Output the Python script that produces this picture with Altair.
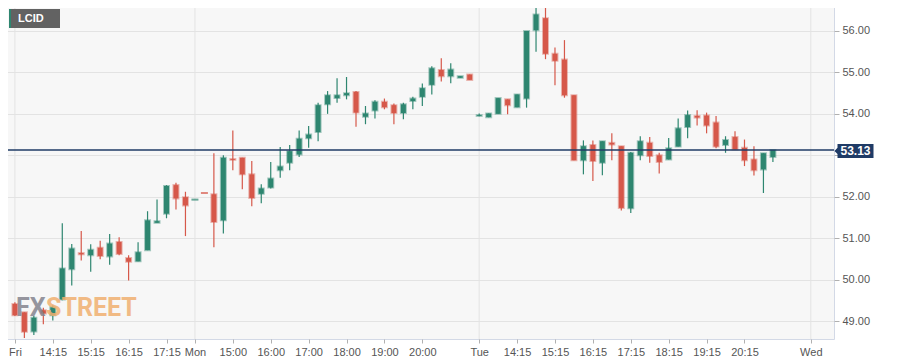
import altair as alt
import pandas as pd

# ---------------- data (15-minute candles) ----------------
candle_idx = list(range(0, 19)) + list(range(21, 81))
opens = [49.41, 49.21, 48.75, 49.26, 49.14, 49.52, 50.25, 50.64, 50.59, 50.77,
         50.56, 50.91, 50.52, 50.44, 50.71, 51.37, 51.59, 52.28, 51.99,
         52.06, 51.43, 52.91, 52.94, 52.54, 52.07, 52.22, 52.64, 52.82, 53.02,
         53.41, 53.56, 54.23, 54.38, 54.45, 54.53, 53.93, 54.08, 54.29, 54.21,
         54.02, 54.31, 54.41, 54.70, 55.06, 54.91, 54.87, 54.95,
         53.95, 53.92, 54.00, 54.35, 54.16, 54.37, 56.02, 56.31, 55.45, 55.31,
         54.45, 52.88, 53.25, 52.82, 53.30, 53.22, 51.72, 53.00, 53.30, 53.00,
         52.90, 53.21, 53.68, 53.95, 53.96, 53.79, 53.25, 53.44, 53.18, 52.90,
         52.66, 52.96]
highs = [49.45, 49.21, 49.12, 49.32, 49.38, 51.36, 50.86, 51.17, 50.85, 50.94,
         51.10, 51.02, 50.59, 50.90, 51.65, 51.93, 52.28, 52.34, 52.12,
         53.05, 53.00, 53.60, 52.94, 52.86, 52.30, 52.84, 53.20, 53.25, 53.60,
         53.71, 54.27, 54.55, 54.86, 54.89, 54.55, 54.19, 54.33, 54.37, 54.25,
         54.27, 54.41, 54.73, 55.15, 55.34, 55.22, 54.91, 54.95,
         54.01, 54.01, 54.38, 54.35, 54.47, 56.00, 56.67, 56.60, 55.60, 55.78,
         54.45, 53.36, 53.36, 53.34, 53.53, 53.22, 53.08, 53.46, 53.44, 53.06,
         53.42, 53.89, 54.08, 54.09, 54.03, 53.95, 53.46, 53.58, 53.38, 53.22,
         53.05, 53.13]
lows = [49.12, 48.59, 48.66, 48.92, 49.01, 49.50, 49.86, 50.46, 50.19, 50.49,
        50.36, 50.59, 49.98, 50.44, 50.71, 51.37, 51.48, 51.69, 51.05,
        50.78, 51.11, 52.64, 52.18, 51.77, 51.84, 52.20, 52.46, 52.64, 52.96,
        53.18, 53.34, 54.00, 54.27, 54.35, 53.69, 53.75, 53.89, 54.11, 53.75,
        53.87, 54.11, 54.19, 54.47, 54.78, 54.74, 54.87, 54.82,
        53.94, 53.92, 54.00, 53.99, 54.16, 54.15, 55.50, 55.32, 54.69, 54.39,
        52.88, 52.54, 52.38, 52.52, 52.88, 51.67, 51.61, 52.88, 52.82, 52.56,
        52.90, 53.21, 53.41, 53.72, 53.53, 53.17, 53.06, 53.14, 52.74, 52.51,
        52.09, 52.84]
closes = [49.14, 48.74, 49.08, 49.18, 49.33, 50.27, 50.75, 50.61, 50.72, 50.57,
          50.87, 50.62, 50.43, 50.66, 51.43, 51.41, 52.26, 51.96, 51.79,
          51.39, 52.94, 52.89, 52.54, 51.97, 52.20, 52.44, 52.73, 53.10, 53.40,
          53.50, 54.21, 54.45, 54.45, 54.50, 54.03, 54.01, 54.29, 54.16, 54.02,
          54.23, 54.37, 54.62, 55.10, 54.91, 55.07, 54.91, 54.82,
          53.97, 54.01, 54.38, 54.21, 54.47, 56.00, 56.40, 55.45, 55.28, 54.45,
          52.88, 53.22, 52.86, 53.34, 53.26, 51.73, 53.06, 53.34, 52.98, 52.84,
          53.17, 53.65, 53.97, 53.91, 53.72, 53.21, 53.37, 53.14, 52.88, 52.64,
          53.05, 53.13]

flat_idx = [19, 20]
flat_val = [51.93, 52.09]
flat_kind = ["black", "gray"]

tick_idx = [0, 4, 8, 12, 16, 19, 23, 27, 31, 35, 39, 43, 49, 53, 57, 61, 65, 69, 73, 77, 84]
tick_lab = ["Fri", "14:15", "15:15", "16:15", "17:15", "Mon", "15:00", "16:00", "17:00",
            "18:00", "19:00", "20:00", "Tue", "14:15", "15:15", "16:15", "17:15", "18:15",
            "19:15", "20:15", "Wed"]
day_idx = [0, 19, 49, 84]
y_ticks = [49, 50, 51, 52, 53, 54, 55, 56]
hidden_y_label = 53          # covered by the last-price tag in the reference
last_price = 53.13
symbol = "LCID"

GREEN = "#2e8670"
RED = "#d6584a"
NAVY = "#1f3b66"

df = pd.DataFrame({"idx": candle_idx, "open": opens, "high": highs,
                   "low": lows, "close": closes})
df["dir"] = ["up" if c >= o else "down" for o, c in zip(opens, closes)]
flat_df = pd.DataFrame({"idx": flat_idx, "val": flat_val, "kind": flat_kind})
day_df = pd.DataFrame({"idx": day_idx})
price_df = pd.DataFrame({"price": [last_price], "label": [f"{last_price:.2f}"]})

xscale = alt.Scale(domain=[-0.94, 85.92], nice=False, zero=False)
yscale = alt.Scale(domain=[48.566, 56.724], nice=False, zero=False)
cscale = alt.Scale(domain=["up", "down"], range=[GREEN, RED])

label_expr = ("[" + ",".join(f"'{t}'" for t in tick_lab) + "][indexof(["
              + ",".join(str(i) for i in tick_idx) + "], datum.value)]")

x_axis = alt.Axis(values=tick_idx, labelExpr=label_expr, grid=False, domain=False,
                  tickSize=4, tickColor="#b0b0b0", labelColor="#555555",
                  labelFontSize=11, labelPadding=3, labelOverlap=False,
                  labelFlush=False, title=None)
y_axis = alt.Axis(orient="right", values=y_ticks, grid=True,
                  labelExpr=f"datum.value == {hidden_y_label} ? '' : format(datum.value, '.2f')",
                  gridColor="#e3e3e3", domain=False, tickSize=5, tickColor="#b0b0b0",
                  labelColor="#555555", labelFontSize=11, labelPadding=3, title=None)


def X(field):
    return alt.X(field, scale=xscale, axis=x_axis)


def Y(field):
    return alt.Y(field, scale=yscale, axis=y_axis)


days = alt.Chart(day_df).mark_rule(color="#e3e3e3", strokeWidth=1).encode(x=X("idx:Q"))

wicks = alt.Chart(df).mark_rule(strokeWidth=1.2).encode(
    x=X("idx:Q"), y=Y("low:Q"), y2="high:Q",
    color=alt.Color("dir:N", scale=cscale, legend=None))

bodies = alt.Chart(df).mark_bar(size=5, strokeWidth=2, strokeOpacity=0.42).encode(
    x=X("idx:Q"), y=Y("open:Q"), y2="close:Q",
    color=alt.Color("dir:N", scale=cscale, legend=None),
    stroke=alt.Stroke("dir:N", scale=cscale, legend=None))

flats = alt.Chart(flat_df).mark_tick(orient="horizontal", thickness=2, size=7).encode(
    x=X("idx:Q"), y=Y("val:Q"),
    color=alt.Color("kind:N", scale=alt.Scale(domain=["black", "gray"],
                                              range=["#222222", "#777777"]), legend=None))

price_line = alt.Chart(price_df).mark_rule(color=NAVY, strokeWidth=1.5).encode(y=Y("price:Q"))

tag_path = "M-1.17,0 L-1,-0.17 L-1,-0.39 L1,-0.39 L1,0.39 L-1,0.39 L-1,0.17 Z"
price_tag = alt.Chart(price_df).mark_point(shape=tag_path, filled=True, size=1296,
                                           color=NAVY, opacity=1, yOffset=1).encode(
    x=alt.value(854.5), y=Y("price:Q"))
price_text = alt.Chart(price_df).mark_text(color="white", fontWeight="bold", fontSize=12,
                                           font="Liberation Sans", align="center",
                                           baseline="middle", yOffset=1).encode(
    x=alt.value(854.5), y=Y("price:Q"), text="label:N")

sym_box = alt.Chart(price_df).mark_rect(color="#626262").encode(
    x=alt.value(8), x2=alt.value(59), y=alt.value(8), y2=alt.value(27))
sym_strip = alt.Chart(price_df).mark_rect(color=GREEN).encode(
    x=alt.value(8), x2=alt.value(10), y=alt.value(8), y2=alt.value(27))
sym_text = alt.Chart(price_df).mark_text(color="white", fontWeight="bold", fontSize=11,
                                         font="Liberation Sans", align="left",
                                         baseline="middle").encode(
    x=alt.value(17), y=alt.value(17.5), text=alt.value(symbol))

wm_fx = alt.Chart(price_df).mark_text(color="#85858f", opacity=0.85, fontWeight="bold",
                                      fontSize=25, font="Roboto",
                                      align="left", baseline="alphabetic").encode(
    x=alt.value(15), y=alt.value(315), text=alt.value("FX"))
wm_street = alt.Chart(price_df).mark_text(color="#f0b070", opacity=0.85, fontWeight="bold",
                                          fontSize=25, font="Roboto",
                                          align="left", baseline="alphabetic").encode(
    x=alt.value(45), y=alt.value(315), text=alt.value("STREET"))

chart = alt.layer(days, wicks, bodies, flats, price_line, wm_fx, wm_street,
                  price_tag, price_text, sym_box, sym_strip, sym_text).properties(
    width=833, height=338,
    padding={"left": -8, "top": -8, "right": 5, "bottom": 5},
    background="white",
).configure_view(fill="#f7f7f7", stroke="#d3d9e6", strokeWidth=1).configure_axis(
    labelFont="Liberation Sans")

chart.save("out.html", embed_options={"renderer": "svg", "actions": False})
